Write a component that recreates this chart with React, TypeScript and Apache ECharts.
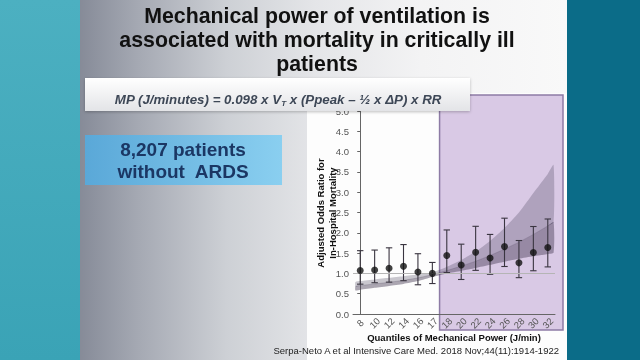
import React, { useEffect, useRef } from "react";
import * as echarts from "echarts";

const titleText = "Mechanical power of ventilation is\nassociated with mortality in critically ill\npatients";
const cohortText = "8,207 patients\nwithout  ARDS";
const citation = "Serpa-Neto A et al Intensive Care Med. 2018 Nov;44(11):1914-1922";
const xAxisTitle = "Quantiles of Mechanical Power (J/min)";
const yAxisTitle = "Adjusted Odds Ratio for\nIn-Hospital Mortality";

const categories = ["8", "10", "12", "14", "16", "17", "18", "20", "22", "24", "26", "28", "30", "32"];
const oddsRatio = [1.07, 1.085, 1.125, 1.175, 1.035, 1.0, 1.44, 1.205, 1.52, 1.38, 1.66, 1.26, 1.515, 1.64];
const ciLower = [0.735, 0.77, 0.785, 0.82, 0.72, 0.75, 1.02, 0.85, 1.075, 0.978, 1.17, 0.895, 1.065, 1.16];
const ciUpper = [1.56, 1.575, 1.63, 1.71, 1.485, 1.27, 2.07, 1.72, 2.16, 1.96, 2.36, 1.81, 2.155, 2.34];

// fitted curve (position on the category index scale) with its confidence band
const fitPos = [-0.33, 0, 1, 2, 3, 4, 5, 6, 7, 8, 9, 10, 11, 12, 13, 13.4];
const fitLower = [0.58, 0.6, 0.645, 0.69, 0.74, 0.81, 0.91, 1.0, 1.06, 1.13, 1.21, 1.29, 1.36, 1.42, 1.48, 1.51];
const fitMid = [0.68, 0.7, 0.74, 0.78, 0.83, 0.89, 0.97, 1.07, 1.18, 1.3, 1.44, 1.6, 1.77, 1.96, 2.17, 2.26];
const fitUpper = [0.79, 0.81, 0.85, 0.89, 0.93, 0.97, 1.03, 1.16, 1.33, 1.54, 1.8, 2.12, 2.5, 2.98, 3.45, 3.67];

const highlightFrom = 5.5; // boundary between 17 and 18

const FONT = "Liberation Sans, Arial, sans-serif";

export default function App() {
  const ref = useRef<HTMLDivElement>(null);

  useEffect(() => {
    const chart = echarts.init(ref.current!, null, { renderer: "svg", width: 640, height: 360 });

    const buildOption = (graphic: any[]) => ({
      animation: false,
      textStyle: { fontFamily: FONT },
      grid: { left: 353, right: 85, top: 111, bottom: 46, outerBoundsMode: "none" },
      xAxis: [
        {
          type: "category",
          data: categories,
          boundaryGap: true,
          axisLine: { lineStyle: { color: "#666", width: 1 } },
          axisTick: { alignWithLabel: true, length: 3, lineStyle: { color: "#666" } },
          axisLabel: {
            interval: 0,
            rotate: 45,
            align: "center",
            verticalAlign: "middle",
            margin: 9,
            fontSize: 9.5,
            color: "#555",
            fontFamily: FONT,
          },
          splitLine: { show: false },
        },
        {
          type: "value",
          min: -0.5,
          max: 13.5,
          show: false,
          splitLine: { show: false },
        },
      ],
      yAxis: {
        type: "value",
        min: 0,
        max: 5,
        interval: 0.5,
        axisLine: { show: true, lineStyle: { color: "#666", width: 1 } },
        axisTick: { show: true, length: 3, lineStyle: { color: "#666" } },
        axisLabel: {
          fontSize: 9.5,
          color: "#555",
          margin: 4,
          fontFamily: FONT,
          formatter: (v: number) => v.toFixed(1),
        },
        splitLine: { show: false },
      },
      series: [
        {
          type: "custom",
          xAxisIndex: 1,
          silent: true,
          z: 2,
          data: fitPos.map((x, i) => [x, fitLower[i], fitMid[i], fitUpper[i]]),
          encode: { x: 0, y: [1, 2, 3] },
          renderItem: (params: any, api: any) => {
            if (params.dataIndex !== 0) return null;
            const lowPts = fitPos.map((x, i) => api.coord([x, fitLower[i]]));
            const midPts = fitPos.map((x, i) => api.coord([x, fitMid[i]]));
            const upPts = fitPos.map((x, i) => api.coord([x, fitUpper[i]]));
            const lowerHalf = [...lowPts, ...midPts.slice().reverse()];
            const upperHalf = [...midPts, ...upPts.slice().reverse()];
            return {
              type: "group",
              children: [
                {
                  type: "polygon",
                  shape: { points: lowerHalf, smooth: 0.2 },
                  style: { fill: "rgba(70,60,85,0.45)" },
                },
                {
                  type: "polygon",
                  shape: { points: upperHalf, smooth: 0.2 },
                  style: { fill: "rgba(70,60,85,0.28)" },
                },
                {
                  type: "polyline",
                  shape: { points: midPts, smooth: 0.2 },
                  style: { stroke: "rgba(80,70,95,0.3)", lineWidth: 0.8, fill: "none" },
                },
              ],
            };
          },
        },
        {
          type: "custom",
          xAxisIndex: 0,
          data: categories.map((_, i) => [i, ciLower[i], ciUpper[i]]),
          encode: { x: 0, y: [1, 2] },
          z: 4,
          renderItem: (params: any, api: any) => {
            const i = api.value(0);
            const lo = api.coord([i, api.value(1)]);
            const hi = api.coord([i, api.value(2)]);
            const hw = 3.2;
            const style = { stroke: "#3a3540", lineWidth: 1.1 };
            return {
              type: "group",
              children: [
                { type: "line", shape: { x1: lo[0], y1: lo[1], x2: hi[0], y2: hi[1] }, style },
                { type: "line", shape: { x1: hi[0] - hw, y1: hi[1], x2: hi[0] + hw, y2: hi[1] }, style },
                { type: "line", shape: { x1: lo[0] - hw, y1: lo[1], x2: lo[0] + hw, y2: lo[1] }, style },
              ],
            };
          },
        },
        {
          type: "scatter",
          xAxisIndex: 0,
          data: oddsRatio,
          symbol: "circle",
          symbolSize: 7,
          itemStyle: { color: "#111" },
          z: 5,
          markLine: {
            silent: true,
            symbol: "none",
            label: { show: false },
            lineStyle: { color: "#b5b5b5", width: 1, type: "solid" },
            data: [{ yAxis: 1 }],
          },
        },
      ],
      graphic: { elements: graphic },
    });

    const backgrounds: any[] = [
      {
        type: "rect",
        z: -20,
        shape: { x: 0, y: 0, width: 80, height: 360 },
        style: {
          fill: new echarts.graphic.LinearGradient(0, 0, 0, 1, [
            { offset: 0, color: "#4cb0c1" },
            { offset: 1, color: "#3aa3b6" },
          ]),
        },
        silent: true,
      },
      {
        type: "rect",
        z: -20,
        shape: { x: 80, y: 0, width: 487, height: 360 },
        style: {
          fill: new echarts.graphic.LinearGradient(0, 0, 1, 0, [
            { offset: 0, color: "#868b98" },
            { offset: 0.12, color: "#a5a9b3" },
            { offset: 0.3, color: "#cdd0d5" },
            { offset: 0.48, color: "#e4e5e8" },
            { offset: 0.7, color: "#f3f3f4" },
            { offset: 1, color: "#f9f9f9" },
          ]),
        },
        silent: true,
      },
      {
        type: "rect",
        z: -20,
        shape: { x: 567, y: 0, width: 73, height: 360 },
        style: { fill: "#0b6c88" },
        silent: true,
      },
      {
        type: "rect",
        z: -19,
        shape: { x: 307, y: 93, width: 260, height: 267 },
        style: { fill: "#fdfdfd" },
        silent: true,
      },
    ];

    const overlays: any[] = [
      {
        type: "text",
        z: 20,
        x: 317,
        y: 40,
        style: {
          text: titleText,
          fontSize: 21.3,
          fontWeight: "bold",
          fontFamily: FONT,
          fill: "#111",
          align: "center",
          verticalAlign: "middle",
          lineHeight: 24,
        },
      },
      {
        type: "rect",
        z: 20,
        shape: { x: 85, y: 78, width: 385, height: 33 },
        style: {
          fill: new echarts.graphic.LinearGradient(0, 0, 0, 1, [
            { offset: 0, color: "#ffffff" },
            { offset: 1, color: "#e3e4e7" },
          ]),
          shadowBlur: 3,
          shadowColor: "rgba(0,0,0,0.25)",
          shadowOffsetY: 1,
        },
        silent: true,
      },
      {
        type: "text",
        z: 21,
        x: 278,
        y: 99,
        style: {
          text: "{a|MP (J/minutes) = 0.098 x V}{s|T}{a| x (Ppeak – ½ x ΔP) x RR}",
          align: "center",
          verticalAlign: "middle",
          rich: {
            a: { fontSize: 13.3, fontWeight: "bold", fontStyle: "italic", fontFamily: FONT, fill: "#3d4756", lineHeight: 16 },
            s: { fontSize: 8, fontWeight: "bold", fontStyle: "italic", fontFamily: FONT, fill: "#3d4756", lineHeight: 16, padding: [9, 0, 0, 0] },
          },
        },
      },
      {
        type: "rect",
        z: 20,
        shape: { x: 85, y: 135, width: 197, height: 50 },
        style: {
          fill: new echarts.graphic.LinearGradient(0, 0, 1, 0, [
            { offset: 0, color: "#5aa8d8" },
            { offset: 1, color: "#8acff0" },
          ]),
        },
        silent: true,
      },
      {
        type: "text",
        z: 21,
        x: 183,
        y: 160,
        style: {
          text: cohortText,
          fontSize: 19,
          fontWeight: "bold",
          fontFamily: FONT,
          fill: "#1b3764",
          align: "center",
          verticalAlign: "middle",
          lineHeight: 22,
        },
      },
      {
        type: "text",
        z: 21,
        x: 326.5,
        y: 213,
        rotation: Math.PI / 2,
        style: {
          text: yAxisTitle,
          fontSize: 9.5,
          fontWeight: "bold",
          fontFamily: FONT,
          fill: "#111",
          align: "center",
          verticalAlign: "middle",
          lineHeight: 11.5,
        },
      },
      {
        type: "text",
        z: 21,
        x: 454,
        y: 337,
        style: {
          text: xAxisTitle,
          fontSize: 9.5,
          fontWeight: "bold",
          fontFamily: FONT,
          fill: "#111",
          align: "center",
          verticalAlign: "middle",
        },
      },
      {
        type: "text",
        z: 21,
        x: 559,
        y: 350,
        style: {
          text: citation,
          fontSize: 9.5,
          fontFamily: FONT,
          fill: "#222",
          align: "right",
          verticalAlign: "middle",
        },
      },
    ];

    chart.setOption(buildOption([...backgrounds, ...overlays]));
    const leftPx = chart.convertToPixel({ xAxisIndex: 1 }, highlightFrom) as number;
    const highlight = {
      type: "rect",
      z: -18,
      shape: { x: leftPx, y: 95, width: 563 - leftPx, height: 235 },
      style: { fill: "#d9c9e5", stroke: "#8d7ba5", lineWidth: 1.5 },
      silent: true,
    };
    chart.setOption(buildOption([...backgrounds, highlight, ...overlays]), { notMerge: true });

    return () => chart.dispose();
  }, []);

  return (
    <div
      ref={ref}
      style={{ position: "fixed", left: 0, top: 0, width: 640, height: 360 }}
    />
  );
}
